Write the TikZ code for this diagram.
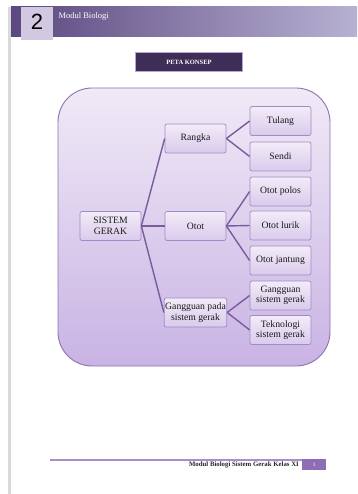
\documentclass[tikz,border=0pt]{standalone}
\usepackage{fontspec}
\setmainfont{Liberation Serif}
\newfontfamily\numfont{Liberation Sans}
\begin{document}
\begin{tikzpicture}[x=1pt,y=-1pt,
  conc/.style={draw=boxline,line width=0.7pt,rounded corners=2pt,
    top color=nodetop,bottom color=nodebot,minimum width=61pt,minimum height=29pt,
    inner sep=1pt,align=center,font=\fontsize{9.7}{10.5}\selectfont,text=black!90},
  conn/.style={draw=connline,line width=1.4pt}]
\definecolor{boxline}{HTML}{A18BC4}
\definecolor{nodetop}{HTML}{F2ECF8}
\definecolor{nodebot}{HTML}{D9CAEC}
\definecolor{connline}{HTML}{7A5C9E}
\definecolor{bigtop}{HTML}{F0EAF7}
\definecolor{bigbot}{HTML}{C9B3E4}
\definecolor{bigline}{HTML}{8E72B2}
\definecolor{hdark}{HTML}{5C4880}
\definecolor{hlight}{HTML}{B7B1D2}
\definecolor{numbox}{HTML}{D2C8E1}
\definecolor{petafill}{HTML}{3E2D56}
\definecolor{petaline}{HTML}{B9A5D8}
\definecolor{footline}{HTML}{A88ECE}
\definecolor{footbox}{HTML}{8F6DB6}
\useasboundingbox (0,0) rectangle (357,494);
\fill[white] (0,0) rectangle (357,494);
% left page edge
\fill[black!15] (8,7) rectangle (11,494);
% header
\shade[left color=hdark,right color=hlight] (11,7) rectangle (357,37);
\fill[numbox] (21,7) rectangle (53,40);
\node[font=\numfont\fontsize{22}{22}\selectfont,text=black] (num) at (37,22) {2};
\node[font=\fontsize{8.5}{9}\selectfont,text=white,anchor=west] (mb) at (55,16) {Modul Biologi};
% title box
\node[draw=petaline,line width=1.3pt,fill=petafill,minimum width=107pt,minimum height=19pt,
  text=white,font=\bfseries\fontsize{6.5}{7}\selectfont] (peta) at (189,62) {PETA KONSEP};
% big rounded box
\shade[top color=bigtop,bottom color=bigbot,rounded corners=34pt] (58,88) rectangle (330,366);
\draw[bigline,line width=0.9pt,rounded corners=34pt] (58,88) rectangle (330,366);
% nodes
\node[conc] (sg) at (110.5,226) {SISTEM\\GERAK};
\node[conc] (rangka) at (195.5,138.5) {Rangka};
\node[conc] (otot) at (195.5,226) {Otot};
\node[conc] (gp) at (195.5,312.5) {Gangguan pada\\sistem gerak};
\node[conc] (tulang) at (280.5,121) {Tulang};
\node[conc] (sendi) at (280.5,156.5) {Sendi};
\node[conc] (op) at (280.5,191.5) {Otot polos};
\node[conc] (ol) at (280.5,225.5) {Otot lurik};
\node[conc] (oj) at (280.5,260.5) {Otot jantung};
\node[conc] (gs) at (280.5,295.5) {Gangguan\\sistem gerak};
\node[conc] (tk) at (280.5,330) {Teknologi\\sistem gerak};
% connectors
\foreach \c in {rangka,otot,gp} \draw[conn] (sg.east) -- (\c.west);
\foreach \c in {tulang,sendi} \draw[conn] (rangka.east) -- (\c.west);
\foreach \c in {op,ol,oj} \draw[conn] (otot.east) -- (\c.west);
\foreach \c in {gs,tk} \draw[conn] (gp.east) -- (\c.west);
% footer
\draw[footline,line width=1.2pt] (50,460) -- (302,460);
\fill[footbox] (302,459) rectangle (326,470);
\node[text=white,font=\fontsize{5}{5}\selectfont] (pg) at (314,464.5) {3};
\node[anchor=east,font=\bfseries\fontsize{6.8}{7}\selectfont,text=black!85,inner sep=1pt] (ft) at (300,465) {Modul Biologi Sistem Gerak Kelas XI};
\end{tikzpicture}
\end{document}
